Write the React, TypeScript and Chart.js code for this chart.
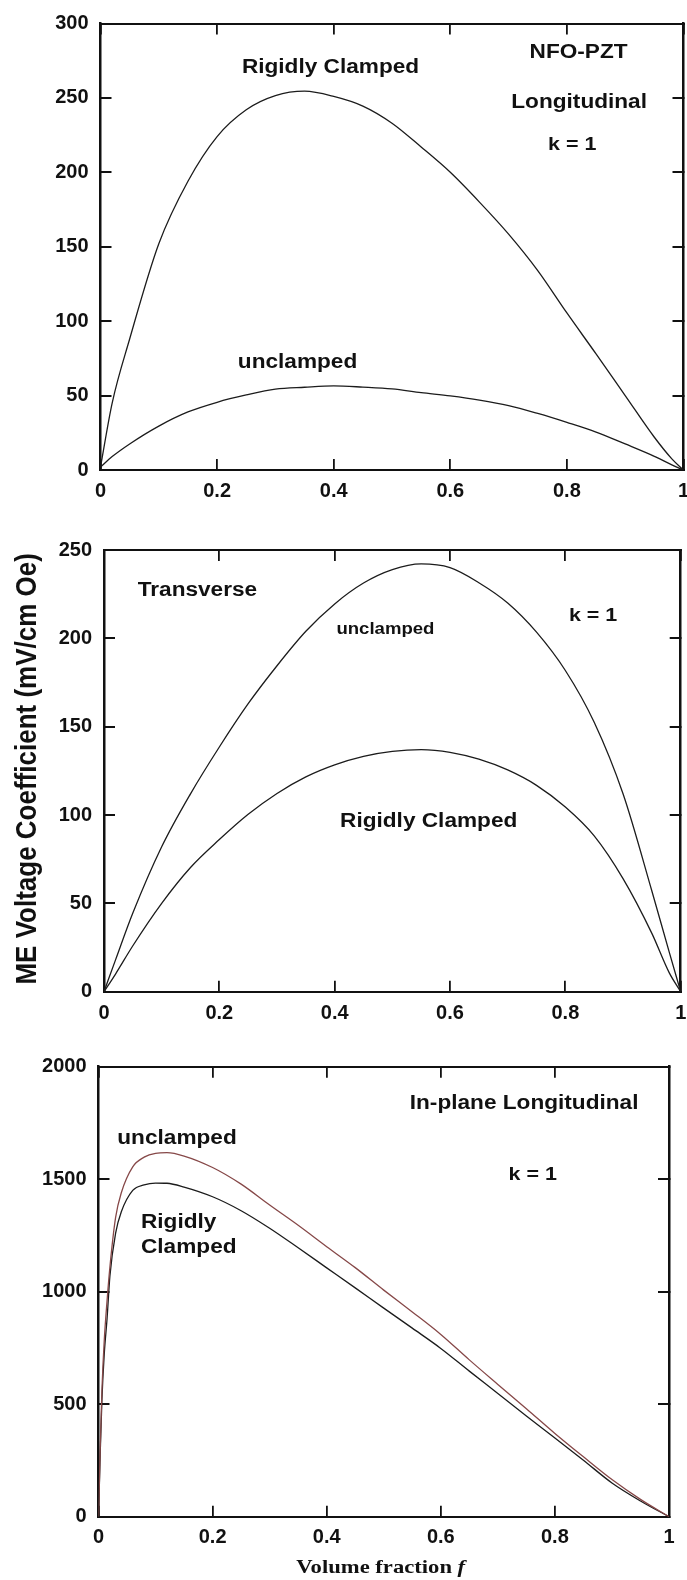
import React, { useEffect, useRef } from "react";
import { Chart, registerables } from "chart.js";

Chart.register(...registerables);

// Volume fraction grid used by the longitudinal and transverse panels
const FRACTION = [0, 0.02, 0.05, 0.1, 0.15, 0.2, 0.25, 0.3, 0.35, 0.4, 0.45, 0.5, 0.55, 0.6, 0.65, 0.7, 0.75, 0.8, 0.85, 0.9, 0.95, 0.98, 1];

// Longitudinal ME voltage coefficient (mV/cm Oe)
const LONG_CLAMPED = [2, 45, 88, 152, 194, 224, 242, 251.5, 254.5, 251, 244.5, 233, 217, 200, 180, 158.5, 134, 105.5, 78, 50, 22, 7.5, 0];
const LONG_UNCLAMPED = [2, 9, 17.5, 29.5, 39, 45.5, 50.4, 54.3, 55.6, 56.5, 55.7, 54.5, 52, 49.8, 47, 43.3, 38, 32, 25.5, 17.5, 9.2, 3.5, 0];

// Transverse ME voltage coefficient (mV/cm Oe)
const TRANS_UNCLAMPED = [0, 18, 44.5, 82, 112, 138.5, 163, 184.5, 204, 219.5, 231.3, 238.9, 242.1, 240, 231.5, 220, 203.5, 181.8, 152.5, 112, 57, 22.5, 0];
const TRANS_CLAMPED = [0, 10, 26, 50, 70.3, 86.1, 100.4, 112.2, 121.6, 128.4, 133.2, 136, 137, 135.5, 131.6, 125.5, 116.8, 104.5, 88.2, 64, 33, 10.8, 0];

// In-plane longitudinal panel needs a finer grid near f = 0
const INPLANE_FRACTION = [0, 0.003, 0.006, 0.01, 0.015, 0.02, 0.03, 0.04, 0.06, 0.08, 0.1, 0.12, 0.15, 0.2, 0.25, 0.3, 0.35, 0.4, 0.45, 0.5, 0.55, 0.6, 0.65, 0.7, 0.75, 0.8, 0.85, 0.9, 0.95, 1];
const INPLANE_UNCLAMPED = [0, 300, 560, 780, 960, 1110, 1330, 1440, 1555, 1598, 1615, 1618, 1603, 1552, 1478, 1385, 1295, 1200, 1107, 1007, 910, 810, 697, 588, 480, 370, 266, 165, 77, 0];
const INPLANE_CLAMPED = [0, 280, 520, 720, 880, 1070, 1260, 1355, 1450, 1475, 1483, 1482, 1465, 1422, 1360, 1282, 1195, 1106, 1017, 927, 838, 748, 647, 548, 448, 350, 251, 150, 70, 0];

// Tick values
const X_TICKS = [0, 0.2, 0.4, 0.6, 0.8, 1];
const LONG_Y_TICKS = [0, 50, 100, 150, 200, 250, 300];
const TRANS_Y_TICKS = [0, 50, 100, 150, 200, 250];
const INPLANE_Y_TICKS = [0, 500, 1000, 1500, 2000];

const Y_TITLE = "ME Voltage Coefficient (mV/cm Oe)";
const X_TITLE = "Volume fraction ";
const X_TITLE_VAR = "f";

const SANS = '"Liberation Sans", Arial, Helvetica, sans-serif';
const SERIF = '"Liberation Serif", "Times New Roman", serif';
const INK = "#111";
const STRETCH = 1.16; // the lettering is set slightly wide

type Note = { text: string; x: number; y: number; size?: number; align?: CanvasTextAlign };
type Area = { left: number; right: number; top: number; bottom: number };
type Series = { data: number[]; color: string };

type PanelSpec = {
  top: number;
  height: number;
  area: Area;
  xs: number[];
  series: Series[];
  yMax: number;
  yTicks: number[];
  notes: Note[];
  xPad: number;
  extra?: (chart: any) => void;
};

const fmt = (v: any) => String(Math.round(Number(v) * 1000) / 1000);
const fixTicks = (values: number[]) => (scale: any) => {
  scale.ticks = values.map((v) => ({ value: v }));
};
const noPad = (s: any) => {
  s.paddingLeft = 0;
  s.paddingRight = 0;
  s.paddingTop = 0;
  s.paddingBottom = 0;
};

function notesPlugin(notes: Note[], extra?: (chart: any) => void) {
  return {
    id: "notes",
    afterDatasetsDraw(chart: any) {
      const { ctx, scales } = chart;
      for (const n of notes) {
        const px = scales.x.getPixelForValue(n.x);
        const py = scales.y.getPixelForValue(n.y);
        ctx.save();
        ctx.translate(px, py);
        ctx.scale(STRETCH, 1);
        ctx.font = `bold ${n.size ?? 19.5}px ${SANS}`;
        ctx.textAlign = n.align ?? "center";
        ctx.textBaseline = "alphabetic";
        ctx.fillStyle = INK;
        ctx.fillText(n.text, 0, 0);
        ctx.restore();
      }
      if (extra) extra(chart);
    },
  };
}

const drawYTitle = (chart: any) => {
  const { ctx, chartArea } = chart;
  const cy = (chartArea.top + chartArea.bottom) / 2 - 2;
  ctx.save();
  ctx.translate(36, cy);
  ctx.rotate(-Math.PI / 2);
  ctx.scale(1, STRETCH);
  ctx.font = `bold 26px ${SANS}`;
  ctx.textAlign = "center";
  ctx.textBaseline = "alphabetic";
  ctx.fillStyle = INK;
  ctx.fillText(Y_TITLE, 0, 0);
  ctx.restore();
};

const drawXTitle = (chart: any) => {
  const { ctx, chartArea } = chart;
  const cx = (chartArea.left + chartArea.right) / 2 - 3;
  const base = chart.height - 7;
  const plain = `bold 19.5px ${SERIF}`;
  const ital = `italic bold 19.5px ${SERIF}`;
  ctx.save();
  ctx.translate(cx, base);
  ctx.scale(STRETCH, 1);
  ctx.font = plain;
  const wa = ctx.measureText(X_TITLE).width;
  ctx.font = ital;
  const wb = ctx.measureText(X_TITLE_VAR).width;
  const start = -(wa + wb) / 2;
  ctx.textAlign = "left";
  ctx.textBaseline = "alphabetic";
  ctx.fillStyle = INK;
  ctx.font = plain;
  ctx.fillText(X_TITLE, start, 0);
  ctx.font = ital;
  ctx.fillText(X_TITLE_VAR, start + wa, 0);
  ctx.restore();
};

const PAGE_W = 687;

function Panel({ spec }: { spec: PanelSpec }) {
  const ref = useRef<HTMLCanvasElement | null>(null);

  useEffect(() => {
    const canvas = ref.current;
    if (!canvas) return;
    const { area, top, height } = spec;
    const tickFont = { family: SANS, size: 20, weight: "bold" as const };
    const grid = {
      drawOnChartArea: false,
      drawTicks: true,
      tickLength: -11,
      color: INK,
      lineWidth: 1.8,
    };
    const xAxisHeight = top + height - area.bottom;

    const chart = new Chart(canvas, {
      type: "line",
      data: {
        datasets: spec.series.map((s) => ({
          data: spec.xs.map((x, i) => ({ x, y: s.data[i] })),
          borderColor: s.color,
          borderWidth: 1.3,
          pointRadius: 0,
          fill: false,
          cubicInterpolationMode: "monotone" as const,
        })),
      },
      options: {
        animation: false,
        responsive: false,
        devicePixelRatio: 1,
        events: [],
        layout: {
          padding: { left: 0, top: area.top - top, right: PAGE_W - area.right, bottom: 0 },
        },
        plugins: { legend: { display: false }, tooltip: { enabled: false } },
        scales: {
          x: {
            type: "linear",
            position: "bottom",
            min: 0,
            max: 1,
            afterBuildTicks: fixTicks(X_TICKS),
            ticks: { font: tickFont, color: INK, padding: spec.xPad, maxRotation: 0, autoSkip: false, callback: fmt },
            grid,
            border: { display: true, color: INK, width: 2 },
            afterFit: (s: any) => {
              s.height = xAxisHeight;
              noPad(s);
            },
          },
          xTop: {
            type: "linear",
            position: "top",
            min: 0,
            max: 1,
            afterBuildTicks: fixTicks(X_TICKS),
            ticks: { display: false },
            grid,
            border: { display: true, color: INK, width: 2 },
            afterFit: (s: any) => {
              s.height = 0;
              noPad(s);
            },
          },
          y: {
            type: "linear",
            position: "left",
            min: 0,
            max: spec.yMax,
            afterBuildTicks: fixTicks(spec.yTicks),
            ticks: { font: tickFont, color: INK, padding: 23, autoSkip: false, callback: fmt },
            grid: { ...grid, lineWidth: 2 },
            border: { display: true, color: INK, width: 2.5 },
            afterFit: (s: any) => {
              s.width = area.left;
              noPad(s);
            },
          },
          yRight: {
            type: "linear",
            position: "right",
            min: 0,
            max: spec.yMax,
            afterBuildTicks: fixTicks(spec.yTicks),
            ticks: { display: false },
            grid: { ...grid, lineWidth: 2 },
            border: { display: true, color: INK, width: 2.5 },
            afterFit: (s: any) => {
              s.width = 0;
              noPad(s);
            },
          },
        },
      } as any,
      plugins: [notesPlugin(spec.notes, spec.extra)],
    });
    return () => chart.destroy();
  }, [spec]);

  return (
    <canvas
      ref={ref}
      width={PAGE_W}
      height={spec.height}
      style={{ position: "absolute", left: 0, top: spec.top, width: PAGE_W, height: spec.height }}
    />
  );
}

const PANELS: PanelSpec[] = [
  {
    top: 0,
    height: 515,
    area: { left: 100.5, right: 683.5, top: 23.5, bottom: 470 },
    xs: FRACTION,
    series: [
      { data: LONG_CLAMPED, color: "#1c1c1c" },
      { data: LONG_UNCLAMPED, color: "#1c1c1c" },
    ],
    yMax: 300,
    yTicks: LONG_Y_TICKS,
    xPad: 20.5,
    notes: [
      { text: "Rigidly Clamped", x: 0.3945, y: 266.6 },
      { text: "NFO-PZT", x: 0.82, y: 276.7 },
      { text: "Longitudinal", x: 0.821, y: 243.3 },
      { text: "k = 1", x: 0.809, y: 215, size: 18.5 },
      { text: "unclamped", x: 0.338, y: 68.3 },
    ],
  },
  {
    top: 515,
    height: 525,
    area: { left: 104, right: 680.7, top: 550, bottom: 991.7 },
    xs: FRACTION,
    series: [
      { data: TRANS_UNCLAMPED, color: "#1c1c1c" },
      { data: TRANS_CLAMPED, color: "#1c1c1c" },
    ],
    yMax: 250,
    yTicks: TRANS_Y_TICKS,
    xPad: 21,
    notes: [
      { text: "Transverse", x: 0.162, y: 224.2 },
      { text: "unclamped", x: 0.488, y: 202.6, size: 16 },
      { text: "k = 1", x: 0.848, y: 209.6, size: 18.5 },
      { text: "Rigidly Clamped", x: 0.563, y: 93.4 },
    ],
    extra: drawYTitle,
  },
  {
    top: 1040,
    height: 540,
    area: { left: 98.5, right: 669, top: 1066.7, bottom: 1516.7 },
    xs: INPLANE_FRACTION,
    series: [
      { data: INPLANE_UNCLAMPED, color: "#864848" },
      { data: INPLANE_CLAMPED, color: "#1c1c1c" },
    ],
    yMax: 2000,
    yTicks: INPLANE_Y_TICKS,
    xPad: 20,
    notes: [
      { text: "In-plane Longitudinal", x: 0.746, y: 1812 },
      { text: "k = 1", x: 0.761, y: 1496, size: 18.5 },
      { text: "unclamped", x: 0.1376, y: 1656 },
      { text: "Rigidly", x: 0.0745, y: 1283, align: "left" },
      { text: "Clamped", x: 0.0745, y: 1172, align: "left" },
    ],
    extra: drawXTitle,
  },
];

export default function App() {
  return (
    <div
      style={{
        position: "absolute",
        left: 0,
        top: 0,
        width: PAGE_W,
        height: 1580,
        background: "#fff",
        overflow: "hidden",
      }}
    >
      {PANELS.map((p, i) => (
        <Panel key={i} spec={p} />
      ))}
    </div>
  );
}
